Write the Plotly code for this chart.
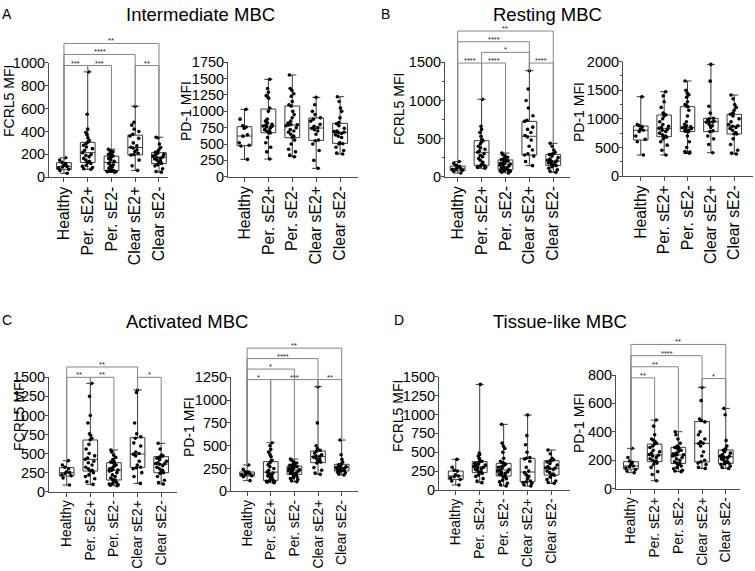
import plotly.graph_objects as go

CATS = ["Healthy", "Per. sE2+", "Per. sE2-", "Clear sE2+", "Clear sE2-"]

# ---------------- A: Intermediate MBC ----------------
INT_FCRL5 = [
    [170, 150, 130, 120, 105, 95, 90, 80, 70, 60, 35],
    [920, 550, 420, 390, 370, 345, 320, 305, 295, 280, 265, 250, 235, 215, 200, 190, 180, 165, 150, 140, 130, 120, 105, 95, 85, 75, 70],
    [245, 238, 230, 222, 215, 205, 198, 192, 188, 185, 180, 172, 165, 155, 140, 130, 120, 110, 100, 90, 80, 70, 62, 58, 56, 54, 52, 50, 48, 45],
    [620, 480, 455, 420, 400, 375, 360, 340, 300, 275, 262, 255, 240, 225, 210, 200, 195, 150, 100, 60],
    [350, 345, 290, 260, 240, 225, 218, 210, 200, 195, 185, 178, 172, 165, 160, 150, 140, 130, 120, 110, 100, 75, 50, 45],
]
INT_FCRL5_Q1 = [70, 130, 58, 195, 120]
INT_FCRL5_MED = [95, 215, 130, 260, 175]
INT_FCRL5_Q3 = [128, 305, 185, 368, 215]
INT_FCRL5_TICKS = [0, 200, 400, 600, 800, 1000]
INT_FCRL5_SIG = [(0, 1, "***", 975), (1, 2, "***", 975), (3, 4, "**", 975),
                 (0, 3, "****", 1072), (0, 4, "**", 1168)]

INT_PD1 = [
    [1030, 880, 780, 760, 740, 640, 620, 520, 480, 470, 265],
    [1490, 1350, 1290, 1240, 1220, 1200, 1050, 1000, 880, 850, 820, 800, 790, 775, 770, 760, 740, 720, 700, 690, 680, 670, 600, 520, 450, 380, 270],
    [1556, 1350, 1320, 1270, 1230, 1150, 1100, 1080, 1000, 950, 900, 850, 820, 800, 795, 790, 780, 750, 720, 700, 680, 650, 620, 600, 560, 500, 420, 380, 330, 306],
    [1214, 1100, 1000, 950, 900, 880, 850, 800, 770, 750, 740, 720, 700, 650, 560, 550, 500, 400, 250, 128],
    [1224, 1150, 1050, 1000, 900, 830, 810, 780, 740, 700, 690, 680, 675, 660, 640, 620, 600, 520, 505, 500, 450, 400, 360, 347],
]
INT_PD1_Q1 = [474, 673, 597, 556, 510]
INT_PD1_MED = [622, 775, 791, 745, 678]
INT_PD1_Q3 = [765, 1035, 1081, 898, 816]
INT_PD1_TICKS = [0, 250, 500, 750, 1000, 1250, 1500, 1750]
INT_PD1_SIG = []

# ---------------- B: Resting MBC ----------------
REST_FCRL5 = [
    [200, 175, 150, 135, 120, 110, 100, 95, 85, 70, 48],
    [1015, 660, 620, 580, 530, 490, 472, 455, 430, 400, 380, 360, 340, 320, 300, 280, 260, 240, 215, 190, 160, 150, 140, 130, 125, 120, 110],
    [310, 290, 270, 255, 240, 230, 225, 220, 215, 205, 195, 185, 175, 170, 165, 160, 150, 140, 130, 120, 110, 100, 95, 90, 85, 80, 75, 70, 60, 50],
    [1390, 1150, 1000, 900, 800, 740, 725, 650, 620, 580, 540, 520, 480, 400, 350, 300, 285, 270, 200, 145],
    [437, 400, 350, 320, 300, 295, 290, 270, 250, 230, 215, 208, 202, 190, 180, 170, 160, 150, 145, 130, 110, 90, 70, 57],
]
REST_FCRL5_Q1 = [80, 150, 95, 284, 145]
REST_FCRL5_MED = [110, 320, 165, 530, 205]
REST_FCRL5_Q3 = [140, 472, 220, 725, 293]
REST_FCRL5_TICKS = [0, 500, 1000, 1500]
REST_FCRL5_SIG = [(0, 1, "****", 1490), (1, 2, "****", 1490), (3, 4, "****", 1490),
                  (1, 3, "*", 1630), (0, 3, "****", 1770), (0, 4, "**", 1910)]

REST_PD1 = [
    [1388, 900, 880, 860, 820, 800, 780, 700, 640, 600, 367],
    [1475, 1400, 1300, 1200, 1100, 1080, 1070, 1050, 1000, 950, 900, 870, 850, 834, 820, 800, 780, 750, 720, 700, 690, 680, 650, 600, 540, 450, 367],
    [1662, 1500, 1450, 1420, 1380, 1300, 1250, 1220, 1210, 1150, 1050, 950, 900, 880, 860, 850, 845, 830, 820, 800, 790, 780, 775, 700, 600, 500, 430, 420, 410, 397],
    [1953, 1660, 1220, 1100, 1010, 1000, 980, 960, 950, 945, 940, 900, 880, 850, 790, 776, 700, 650, 550, 408],
    [1417, 1350, 1250, 1200, 1150, 1100, 1080, 1050, 1000, 950, 900, 880, 870, 850, 830, 800, 760, 740, 735, 650, 550, 450, 400, 385],
]
REST_PD1_Q1 = [630, 688, 776, 776, 735]
REST_PD1_MED = [800, 834, 846, 950, 875]
REST_PD1_Q3 = [875, 1067, 1213, 1009, 1079]
REST_PD1_TICKS = [0, 500, 1000, 1500, 2000]
REST_PD1_SIG = []

# ---------------- C: Activated MBC ----------------
ACT_FCRL5 = [
    [407, 350, 320, 300, 260, 250, 240, 220, 210, 180, 87],
    [1421, 1250, 1000, 900, 760, 740, 700, 680, 620, 560, 500, 470, 440, 424, 400, 380, 350, 320, 300, 280, 271, 250, 220, 200, 170, 130, 96],
    [547, 520, 480, 450, 420, 400, 390, 380, 370, 350, 330, 310, 300, 290, 285, 280, 270, 250, 220, 200, 180, 160, 153, 140, 120, 110, 100, 90, 85, 79],
    [1334, 1300, 900, 760, 720, 700, 640, 600, 520, 500, 490, 470, 400, 350, 320, 315, 300, 250, 200, 109],
    [634, 560, 480, 470, 460, 455, 440, 420, 400, 380, 370, 365, 360, 340, 320, 300, 280, 260, 250, 240, 200, 150, 120, 100],
]
ACT_FCRL5_Q1 = [206, 271, 153, 319, 249]
ACT_FCRL5_MED = [249, 424, 284, 494, 363]
ACT_FCRL5_Q3 = [315, 678, 380, 708, 459]
ACT_FCRL5_TICKS = [0, 250, 500, 750, 1000, 1250, 1500]
ACT_FCRL5_SIG = [(0, 1, "**", 1500), (1, 2, "**", 1500), (3, 4, "*", 1500), (0, 3, "**", 1635)]

ACT_PD1 = [
    [289, 240, 215, 210, 200, 190, 185, 180, 170, 160, 117],
    [533, 500, 460, 430, 400, 380, 340, 325, 310, 290, 270, 250, 230, 210, 200, 190, 180, 170, 160, 150, 130, 120, 115, 110, 105, 100, 95],
    [354, 340, 320, 310, 300, 290, 285, 280, 277, 270, 265, 260, 250, 240, 235, 230, 225, 220, 210, 200, 195, 190, 186, 175, 160, 150, 140, 130, 115, 105],
    [1147, 750, 500, 470, 450, 440, 420, 400, 390, 380, 375, 360, 350, 330, 320, 310, 260, 230, 200, 186],
    [562, 400, 350, 320, 300, 296, 290, 280, 270, 265, 260, 258, 255, 250, 245, 240, 235, 230, 225, 220, 210, 200, 190, 179],
]
ACT_PD1_Q1 = [168, 120, 186, 314, 223]
ACT_PD1_MED = [190, 210, 233, 380, 259]
ACT_PD1_Q3 = [212, 325, 277, 442, 296]
ACT_PD1_TICKS = [0, 250, 500, 750, 1000, 1250]
ACT_PD1_SIG = [(0, 1, "*", 1225), (1, 3, "***", 1225), (3, 4, "**", 1225),
               (0, 2, "*", 1340), (0, 3, "****", 1455), (0, 4, "**", 1570)]

# ---------------- D: Tissue-like MBC ----------------
TIS_FCRL5 = [
    [406, 300, 260, 250, 200, 185, 180, 160, 140, 120, 66],
    [1398, 490, 470, 450, 420, 390, 380, 370, 360, 350, 340, 330, 320, 310, 300, 290, 280, 270, 250, 240, 230, 220, 200, 180, 150, 120, 97],
    [869, 620, 580, 550, 500, 420, 380, 360, 350, 340, 320, 310, 300, 290, 270, 260, 250, 240, 230, 220, 210, 200, 185, 170, 150, 130, 110, 90, 70, 53],
    [992, 720, 600, 500, 430, 420, 410, 380, 300, 250, 230, 200, 180, 150, 120, 110, 100, 90, 70, 53],
    [529, 480, 420, 400, 390, 385, 370, 350, 330, 310, 295, 290, 285, 270, 250, 230, 210, 200, 195, 170, 140, 120, 100, 88],
]
TIS_FCRL5_Q1 = [141, 229, 185, 110, 198]
TIS_FCRL5_MED = [185, 309, 265, 238, 287]
TIS_FCRL5_Q3 = [251, 375, 353, 419, 388]
TIS_FCRL5_TICKS = [0, 250, 500, 750, 1000, 1250, 1500]
TIS_FCRL5_SIG = []

TIS_PD1 = [
    [284, 220, 195, 185, 170, 160, 155, 145, 135, 125, 113],
    [483, 440, 380, 350, 340, 330, 320, 314, 300, 290, 270, 260, 250, 240, 235, 230, 220, 210, 200, 195, 190, 180, 170, 150, 120, 100, 56],
    [401, 380, 350, 320, 300, 295, 290, 285, 280, 270, 260, 250, 245, 240, 238, 235, 230, 220, 210, 200, 190, 180, 178, 170, 160, 150, 140, 130, 125, 120],
    [713, 620, 490, 480, 470, 400, 380, 350, 330, 320, 318, 300, 260, 230, 200, 190, 180, 170, 150, 143],
    [565, 520, 340, 300, 280, 275, 270, 260, 250, 240, 230, 228, 222, 215, 210, 200, 190, 185, 180, 175, 170, 160, 150, 143],
]
TIS_PD1_Q1 = [138, 190, 178, 188, 178]
TIS_PD1_MED = [160, 237, 237, 319, 225]
TIS_PD1_Q3 = [190, 314, 291, 472, 272]
TIS_PD1_TICKS = [0, 200, 400, 600, 800]
TIS_PD1_SIG = [(0, 1, "**", 780), (3, 4, "*", 775), (0, 2, "**", 858),
               (0, 3, "****", 936), (0, 4, "**", 1015)]

PANEL_TITLES = ["Intermediate MBC", "Resting MBC", "Activated MBC", "Tissue-like MBC"]
PANEL_LETTERS = ["A", "B", "C", "D"]

# ---------------- build ----------------
W, H = 755, 571
FONT = "Liberation Sans, Arial, sans-serif"
AX = "#4a4a4a"

PANELS = [
    (INT_FCRL5, INT_FCRL5_Q1, INT_FCRL5_MED, INT_FCRL5_Q3, INT_FCRL5_TICKS, INT_FCRL5_SIG, "FCRL5 MFI"),
    (INT_PD1, INT_PD1_Q1, INT_PD1_MED, INT_PD1_Q3, INT_PD1_TICKS, INT_PD1_SIG, "PD-1 MFI"),
    (REST_FCRL5, REST_FCRL5_Q1, REST_FCRL5_MED, REST_FCRL5_Q3, REST_FCRL5_TICKS, REST_FCRL5_SIG, "FCRL5 MFI"),
    (REST_PD1, REST_PD1_Q1, REST_PD1_MED, REST_PD1_Q3, REST_PD1_TICKS, REST_PD1_SIG, "PD-1 MFI"),
    (ACT_FCRL5, ACT_FCRL5_Q1, ACT_FCRL5_MED, ACT_FCRL5_Q3, ACT_FCRL5_TICKS, ACT_FCRL5_SIG, "FCRL5 MFI"),
    (ACT_PD1, ACT_PD1_Q1, ACT_PD1_MED, ACT_PD1_Q3, ACT_PD1_TICKS, ACT_PD1_SIG, "PD-1 MFI"),
    (TIS_FCRL5, TIS_FCRL5_Q1, TIS_FCRL5_MED, TIS_FCRL5_Q3, TIS_FCRL5_TICKS, TIS_FCRL5_SIG, "FCRL5 MFI"),
    (TIS_PD1, TIS_PD1_Q1, TIS_PD1_MED, TIS_PD1_Q3, TIS_PD1_TICKS, TIS_PD1_SIG, "PD-1 MFI"),
]

# pixel geometry: (left, right, top, bottom) of plot area, x range, y-title centre, bracket top
GEOM = [
    dict(box=(49, 168, 62.7, 177.3), xr=(-0.63, 4.38), tpos=(9, 101), btop=32, minor=None, xf=15.8),
    dict(box=(228, 358, 62.3, 176.7), xr=(-0.69, 4.75), tpos=(186, 111), btop=None, minor=None, xf=15.8),
    dict(box=(445, 570, 62.3, 176.7), xr=(-0.53, 4.70), tpos=(399, 109), btop=18, minor=250, xf=15.8),
    dict(box=(623, 753, 61.7, 176.0), xr=(-0.76, 4.80), tpos=(579, 112), btop=None, minor=250, xf=15.8),
    dict(box=(49, 177, 377.3, 491.7), xr=(-0.75, 4.67), tpos=(19, 415), btop=352, minor=None, xf=13.8),
    dict(box=(231, 358, 377.3, 491.3), xr=(-0.68, 4.69), tpos=(189, 427), btop=335, minor=None, xf=13.8),
    dict(box=(439, 570, 376.7, 490.0), xr=(-0.70, 4.77), tpos=(398, 416), btop=None, minor=None, xf=13.8),
    dict(box=(616, 740, 375.0, 488.7), xr=(-0.63, 4.60), tpos=(579, 423), btop=333, minor=None, xf=13.8),
]
TITLE_POS = [(200, 14), (547, 14), (187, 321), (560, 321)]
LETTER_POS = [(7, 14), (385, 14), (7, 320), (399, 320)]

fig = go.Figure()
lay = {}
shapes = []
annos = []
extra = 9


def paper_text(text, cx, cy, size, angle=0):
    return dict(x=cx / W, y=1 - cy / H, xref="paper", yref="paper", text=text,
                xanchor="center", yanchor="middle", textangle=angle, showarrow=False,
                font=dict(size=size, color="black", family=FONT))


for k, (p, g) in enumerate(zip(PANELS, GEOM)):
    data, q1, med, q3, ticks, sig, ytitle = p
    n = k + 1
    xs = "" if n == 1 else str(n)
    xid, yid = "x" + xs, "y" + xs
    x0, x1, yt, yb = g["box"]
    T = ticks[-1]
    for i, cat in enumerate(CATS):
        vals = data[i]
        fig.add_trace(go.Box(
            x=[cat], q1=[q1[i]], median=[med[i]], q3=[q3[i]],
            lowerfence=[min(vals)], upperfence=[max(vals)],
            width=0.62, whiskerwidth=0.55, fillcolor="rgba(0,0,0,0)",
            line=dict(color="#3a3a3a", width=1), boxpoints=False,
            xaxis=xid, yaxis=yid, showlegend=False, hoverinfo="skip"))
        fig.add_trace(go.Box(
            x=[cat] * len(vals), y=vals, width=0.62, boxpoints="all",
            jitter=0.85, pointpos=0, fillcolor="rgba(0,0,0,0)",
            line=dict(color="rgba(0,0,0,0)", width=0),
            marker=dict(color="black", size=3.6),
            xaxis=xid, yaxis=yid, showlegend=False, hoverinfo="skip"))

    lay["xaxis" + xs] = dict(
        domain=[x0 / W, x1 / W], anchor=yid, type="category",
        categoryorder="array", categoryarray=CATS, range=list(g["xr"]),
        tickangle=-90, ticks="outside", ticklen=4, tickcolor=AX,
        ticklabelstandoff=-2,
        showline=True, linecolor=AX, linewidth=1, showgrid=False, zeroline=False,
        tickfont=dict(size=g["xf"], color="black", family=FONT), fixedrange=True,
        automargin=False)
    ya = dict(
        domain=[1 - yb / H, 1 - yt / H], anchor=xid, range=[0, T],
        tickvals=ticks, ticks="outside", ticklen=3, tickcolor=AX,
        ticklabelstandoff=-3,
        showline=True, linecolor=AX, linewidth=1, showgrid=False, zeroline=False,
        tickfont=dict(size=14.5, color="black", family=FONT), fixedrange=True,
        automargin=False)
    if g["minor"]:
        ya["minor"] = dict(tickvals=[v + g["minor"] for v in ticks[:-1]],
                           ticks="outside", ticklen=2, tickcolor=AX)
    lay["yaxis" + xs] = ya

    annos.append(paper_text(ytitle, g["tpos"][0], g["tpos"][1], 14, -90))

    if sig:
        bx, by = f"x{extra}", f"y{extra}"
        Tb = T * (yb - g["btop"]) / (yb - yt)
        lay[f"xaxis{extra}"] = dict(domain=[x0 / W, x1 / W], anchor=by, type="linear",
                                    range=list(g["xr"]), visible=False, fixedrange=True)
        lay[f"yaxis{extra}"] = dict(domain=[1 - yb / H, 1 - g["btop"] / H], anchor=bx,
                                    type="linear", range=[0, Tb], visible=False, fixedrange=True)
        fig.add_trace(go.Scatter(x=[None], y=[None], xaxis=bx, yaxis=by,
                                 showlegend=False, hoverinfo="skip"))
        for (i, j, lab, lev) in sig:
            mi, mj = max(data[i]), max(data[j])
            shapes.append(dict(type="path", xref=bx, yref=by,
                               path=f"M{i},{mi} L{i},{lev} L{j},{lev} L{j},{mj}",
                               line=dict(color="#858585", width=1), layer="above"))
            annos.append(dict(x=(i + j) / 2, y=lev, xref=bx, yref=by, text=lab,
                              xanchor="center", showarrow=False, yanchor="bottom", yshift=-3,
                              borderpad=0,
                              font=dict(size=7.5, color="#222", family=FONT)))
        extra += 1

for t, (cx, cy) in zip(PANEL_TITLES, TITLE_POS):
    annos.append(paper_text(t, cx, cy, 18.5))
for t, (cx, cy) in zip(PANEL_LETTERS, LETTER_POS):
    annos.append(paper_text(t, cx, cy, 14))

fig.update_layout(
    width=W, height=H, autosize=False,
    margin=dict(l=0, r=0, t=0, b=0, pad=0, autoexpand=False),
    paper_bgcolor="white", plot_bgcolor="rgba(0,0,0,0)",
    font=dict(family=FONT, color="black"),
    boxmode="overlay", showlegend=False,
    shapes=shapes, annotations=annos,
    **lay)

fig.write_html("out.html", config={"displayModeBar": False, "responsive": False},
               post_script="document.body.style.margin='0px';")
